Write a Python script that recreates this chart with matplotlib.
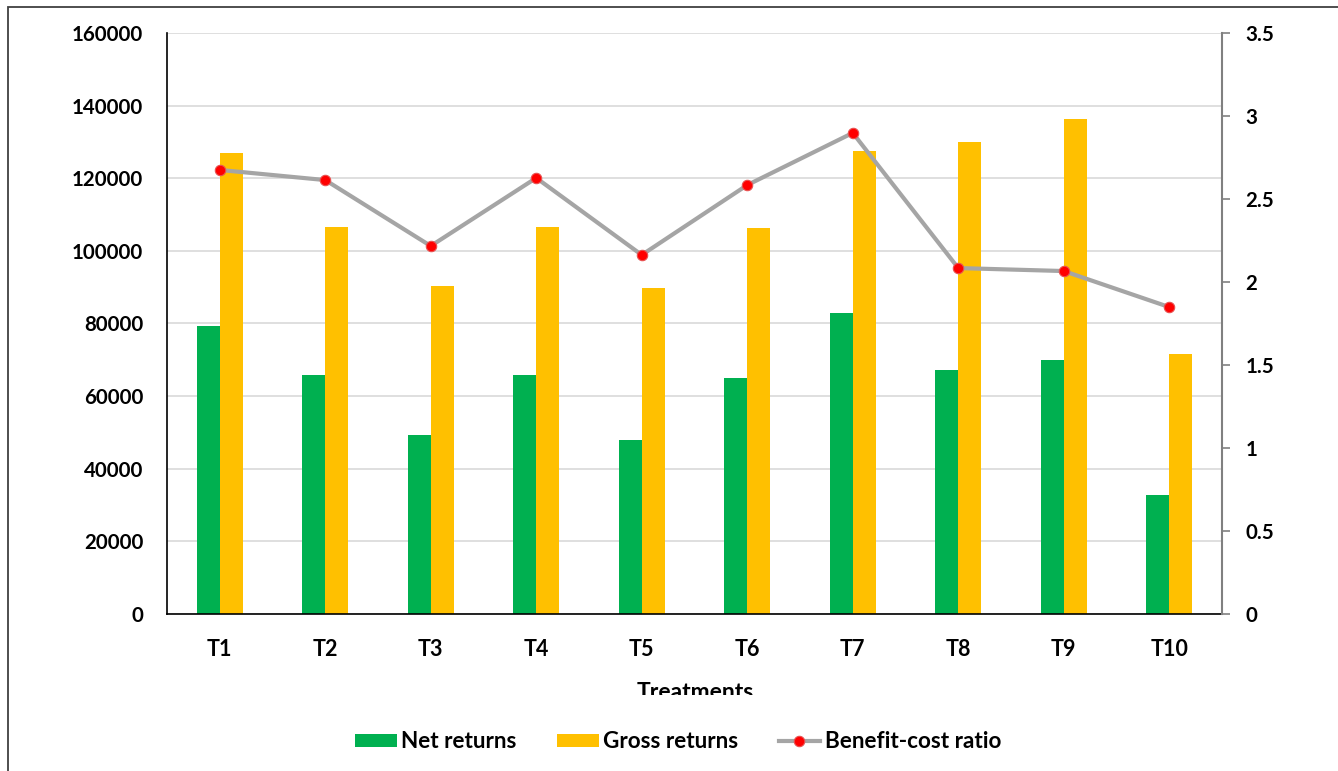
import matplotlib
matplotlib.use("Agg")
import matplotlib.pyplot as plt
from matplotlib.patches import Rectangle
import numpy as np

categories = ["T1", "T2", "T3", "T4", "T5", "T6", "T7", "T8", "T9", "T10"]
net_returns = [79300, 65800, 49300, 65800, 47900, 65000, 82900, 67200, 70000, 32800]
gross_returns = [127000, 106600, 90300, 106600, 89800, 106300, 127500, 130000, 136300, 71600]
bcr = [2.675, 2.614, 2.217, 2.627, 2.163, 2.584, 2.898, 2.084, 2.066, 1.849]
left_ticks = [0, 20000, 40000, 60000, 80000, 100000, 120000, 140000, 160000]
right_ticks = [0, 0.5, 1, 1.5, 2, 2.5, 3, 3.5]
right_labels = ["0", "0.5", "1", "1.5", "2", "2.5", "3", "3.5"]

plt.rcParams['font.family'] = ['Lato', 'DejaVu Sans']
plt.rcParams['font.weight'] = 'bold'

W, H = 1338, 771
fig = plt.figure(figsize=(W / 100, H / 100), dpi=100)
ax = fig.add_axes([167 / W, 1 - 614 / H, (1222 - 167) / W, (614 - 33) / H])

x = np.arange(len(categories))
bw = 0.22
ax.bar(x - bw / 2, net_returns, width=bw, color="#00B050", label="Net returns", zorder=2)
ax.bar(x + bw / 2, gross_returns, width=bw, color="#FFC000", label="Gross returns", zorder=2)

ax.set_xlim(-0.5, len(categories) - 0.5)
ax.set_ylim(0, 160000)
ax.set_yticks(left_ticks)
ax.set_yticklabels([str(v) for v in left_ticks], fontsize=14.8, fontweight='bold')
ax.set_xticks(x)
ax.set_xticklabels(categories, fontsize=15.5, fontweight='bold')
ax.tick_params(axis='y', length=0, pad=17)
ax.tick_params(axis='x', length=0, pad=18)
ax.yaxis.grid(True, color="#D9D9D9", linewidth=1.2, zorder=0)
ax.set_axisbelow(True)
for s in ["top", "right"]:
    ax.spines[s].set_visible(False)
ax.spines["left"].set_color("black")
ax.spines["bottom"].set_color("black")
ax.spines["left"].set_linewidth(1.2)
ax.spines["bottom"].set_linewidth(1.2)

ax2 = ax.twinx()
ax2.plot(x, bcr, color="#A5A5A5", linewidth=3, marker="o", markersize=7.5,
         markerfacecolor="#FF0000", markeredgecolor="#E85050", markeredgewidth=0.8,
         label="Benefit-cost ratio", zorder=3)
ax2.set_ylim(0, 3.5)
ax2.set_yticks(right_ticks)
ax2.set_yticklabels(right_labels, fontsize=14.8, fontweight='bold')
ax2.tick_params(axis='y', length=6, width=1.2, color="#808080", pad=11, direction='out')
for s in ["top", "left", "bottom"]:
    ax2.spines[s].set_visible(False)
ax2.spines["right"].set_color("#808080")
ax2.spines["right"].set_linewidth(1.5)

fig.text(695 / W, 1 - 682 / H, "Treatments", ha="center", va="top",
         fontsize=16.5, fontweight='bold', zorder=1)
fig.patches.append(Rectangle((560 / W, 0), 280 / W, 1 - 695 / H,
                             transform=fig.transFigure, facecolor="white",
                             edgecolor="none", zorder=5))

h1, l1 = ax.get_legend_handles_labels()
h2, l2 = ax2.get_legend_handles_labels()
leg = fig.legend(h1 + h2, l1 + l2, loc="center", bbox_to_anchor=(678 / W, 1 - 742 / H),
                 ncol=3, frameon=False, fontsize=16.2, handlelength=1.85, handleheight=0.5,
                 handletextpad=0.2, columnspacing=1.8)
leg.set_zorder(6)
for t in leg.get_texts():
    t.set_fontweight('bold')

fig.patches.append(Rectangle((8 / W, -0.1), 1.2, 1 - 7 / H + 0.1,
                             transform=fig.transFigure, facecolor="none",
                             edgecolor="#404040", linewidth=1.3, zorder=10))

fig.savefig("out.png", dpi=100)
